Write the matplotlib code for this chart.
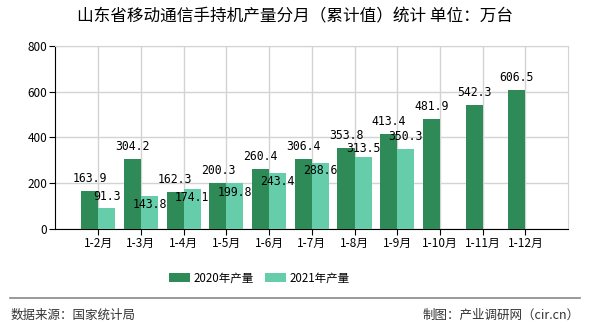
import matplotlib
matplotlib.use('Agg')
import matplotlib.pyplot as plt
import numpy as np

plt.rcParams['font.family'] = ['Noto Sans CJK SC', 'DejaVu Sans']

# 数据
months = ['1-2月', '1-3月', '1-4月', '1-5月', '1-6月', '1-7月',
          '1-8月', '1-9月', '1-10月', '1-11月', '1-12月']
output_2020 = [163.9, 304.2, 162.3, 200.3, 260.4, 306.4,
               353.8, 413.4, 481.9, 542.3, 606.5]
output_2021 = [91.3, 143.8, 174.1, 199.8, 243.4, 288.6, 313.5, 350.3]
series_names = ['2020年产量', '2021年产量']

# 2021 标签的上下偏移（像素），有些被挤到柱顶下面
label_dy_2021 = [12, -8, -8, -9, -8, -8, 9, 12]

c2020 = '#2e8b57'
c2021 = '#66cdaa'
w = 0.4

fig = plt.figure(figsize=(5.9, 3.3), dpi=100)
ax = fig.add_axes([0.094, 0.306, 0.869, 0.555])

x = np.arange(len(months))
x21 = np.arange(len(output_2021))
b1 = ax.bar(x - w / 2, output_2020, width=w, color=c2020, label=series_names[0], zorder=3)
b2 = ax.bar(x21 + w / 2, output_2021, width=w, color=c2021, label=series_names[1], zorder=3)

# 数据标签
for xi, v in zip(x, output_2020):
    ax.annotate(f'{v:.1f}', (xi - w / 2, v), xytext=(0, 12.5), textcoords='offset pixels',
                ha='center', va='center', fontsize=8.3, family='DejaVu Sans Mono', zorder=5)
for xi, v, dy in zip(x21, output_2021, label_dy_2021):
    ax.annotate(f'{v:.1f}', (xi + w / 2, v), xytext=(0, dy), textcoords='offset pixels',
                ha='center', va='center', fontsize=8.3, family='DejaVu Sans Mono', zorder=5)

ax.set_xlim(-1, len(months))
ax.set_ylim(0, 800)
ax.set_yticks([0, 200, 400, 600, 800])
ax.set_xticks(x)
ax.set_xticklabels(months, fontsize=8.5)
ax.tick_params(axis='y', labelsize=8.5, length=4, pad=2)
ax.tick_params(axis='x', length=4, pad=2)

ax.grid(True, color='#d3d3d3', linewidth=1, zorder=0)
for s in ['top', 'right']:
    ax.spines[s].set_color('#d3d3d3')
ax.spines['left'].set_color('black')
ax.spines['bottom'].set_color('black')

fig.text(0.5, 0.948, '山东省移动通信手持机产量分月（累计值）统计 单位：万台',
         ha='center', va='center', fontsize=12)

fig.legend(handles=[b1, b2], labels=series_names, loc='center', bbox_to_anchor=(0.44, 0.158),
           ncol=2, frameon=False, fontsize=8.3, handlelength=1.8, handleheight=0.8,
           columnspacing=1.0, handletextpad=0.3)

fig.add_artist(plt.Line2D([0.017, 0.983], [0.097, 0.097], color='#888888', linewidth=1.2))
fig.text(0.017, 0.045, '数据来源：国家统计局', ha='left', va='center', fontsize=9, color='#333333')
fig.text(0.983, 0.045, '制图：产业调研网（cir.cn）', ha='right', va='center', fontsize=9, color='#333333')

fig.savefig('out.png', dpi=100)
